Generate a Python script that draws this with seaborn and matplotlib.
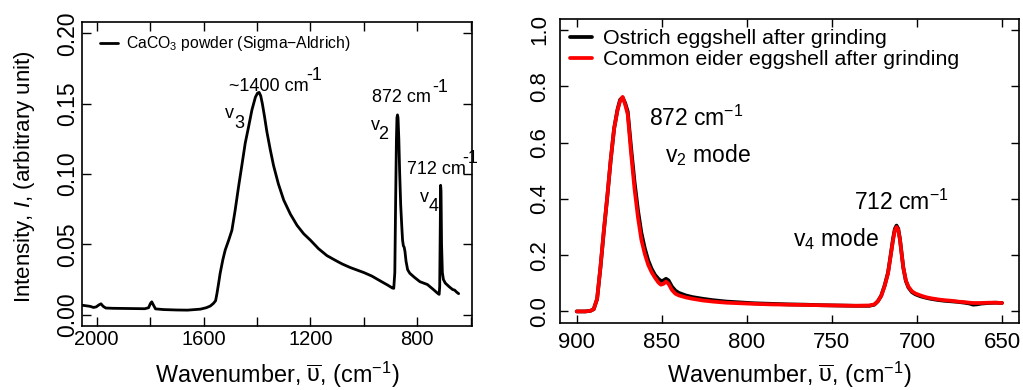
import matplotlib
matplotlib.use("Agg")
import matplotlib.pyplot as plt
import seaborn as sns
import pandas as pd

# CaCO3 reference powder spectrum (wavenumber in cm^-1, intensity in arbitrary units)
caco3_wn = [2055, 2040, 2025, 2012, 2002, 1992, 1984, 1976, 1966, 1940, 1900, 1860, 1820,
            1806, 1799, 1794, 1788, 1780, 1750, 1700, 1660, 1612, 1590, 1575, 1563, 1555,
            1550, 1544, 1538, 1528, 1519, 1506, 1494, 1482, 1469, 1456, 1444, 1431, 1419,
            1406, 1398, 1392, 1386, 1380, 1372, 1363, 1350, 1338, 1320, 1300, 1275, 1250,
            1225, 1200, 1170, 1138, 1100, 1080, 1050, 1000, 970, 938, 910, 893, 888, 884,
            881, 878, 876, 874, 872, 869, 866, 862, 858, 855, 852, 849, 846, 842, 836, 828,
            810, 790, 762, 740, 725, 718, 716, 714, 712.5, 711, 709, 706, 702, 695, 681,
            668, 660, 652, 645]
caco3_int = [0.0068, 0.0064, 0.0060, 0.0052, 0.0056, 0.0070, 0.0078, 0.0060, 0.0048, 0.0046,
             0.0045, 0.0044, 0.0043, 0.0050, 0.0080, 0.0092, 0.0070, 0.0042, 0.0037, 0.0034,
             0.0033, 0.0040, 0.0050, 0.0062, 0.0081, 0.0100, 0.0150, 0.0220, 0.0294, 0.0390,
             0.0460, 0.0530, 0.0600, 0.0740, 0.0910, 0.1070, 0.1220, 0.1340, 0.1455, 0.1546,
             0.1575, 0.1580, 0.1555, 0.1500, 0.1410, 0.1300, 0.1170, 0.1060, 0.0930, 0.0815,
             0.0715, 0.0635, 0.0575, 0.0530, 0.0470, 0.0420, 0.0380, 0.0360, 0.0335, 0.0300,
             0.0275, 0.0240, 0.0210, 0.0190, 0.0188, 0.0300, 0.0800, 0.1250, 0.1400, 0.1420,
             0.1400, 0.1250, 0.1020, 0.0780, 0.0630, 0.0530, 0.0490, 0.0480, 0.0450, 0.0380,
             0.0320, 0.0295, 0.0265, 0.0235, 0.0215, 0.0180, 0.0155, 0.0145, 0.0200, 0.0600,
             0.0920, 0.0880, 0.0500, 0.0300, 0.0250, 0.0225, 0.0200, 0.0180, 0.0175, 0.0160,
             0.0150]

# Eggshell spectra after grinding (normalised intensity)
egg_wn = [900, 895, 892, 890, 888, 886, 884, 882, 880, 878, 876, 874.5, 873, 871.5, 870, 868,
          866, 864, 862, 860, 858, 856, 854, 852, 850.5, 849, 847.5, 846, 844, 842, 840, 836,
          832, 826, 820, 812, 804, 796, 786, 776, 766, 756, 746, 736, 728, 725, 723, 721, 719,
          717, 715.5, 714, 713, 712, 711, 710, 709, 708, 706.5, 705, 703, 701, 698, 695, 692,
          688, 684, 680, 676, 672, 669, 667, 665, 662, 658, 654, 650]
ostrich = [0.000, 0.000, 0.002, 0.008, 0.044, 0.158, 0.288, 0.408, 0.538, 0.650, 0.718, 0.752,
           0.760, 0.740, 0.710, 0.580, 0.460, 0.360, 0.280, 0.225, 0.182, 0.152, 0.130, 0.116,
           0.108, 0.110, 0.116, 0.110, 0.088, 0.074, 0.066, 0.057, 0.051, 0.045, 0.040, 0.035,
           0.032, 0.029, 0.027, 0.025, 0.024, 0.022, 0.021, 0.020, 0.020, 0.024, 0.036, 0.056,
           0.092, 0.138, 0.198, 0.260, 0.293, 0.305, 0.294, 0.258, 0.206, 0.155, 0.108, 0.085,
           0.069, 0.061, 0.054, 0.049, 0.045, 0.041, 0.038, 0.036, 0.034, 0.031, 0.028, 0.024,
           0.025, 0.028, 0.030, 0.031, 0.030]
eider = [0.000, 0.000, 0.002, 0.008, 0.045, 0.160, 0.290, 0.410, 0.540, 0.650, 0.715, 0.748,
         0.762, 0.735, 0.700, 0.560, 0.435, 0.335, 0.255, 0.205, 0.166, 0.140, 0.120, 0.103,
         0.095, 0.098, 0.106, 0.098, 0.076, 0.063, 0.057, 0.050, 0.045, 0.039, 0.035, 0.031,
         0.029, 0.027, 0.025, 0.024, 0.023, 0.022, 0.021, 0.020, 0.021, 0.025, 0.036, 0.055,
         0.090, 0.135, 0.195, 0.255, 0.288, 0.300, 0.290, 0.255, 0.205, 0.155, 0.110, 0.088,
         0.072, 0.064, 0.057, 0.051, 0.047, 0.043, 0.040, 0.038, 0.035, 0.033, 0.031, 0.030,
         0.030, 0.030, 0.031, 0.031, 0.030]

left_xticks = [2000, 1800, 1600, 1400, 1200, 1000, 800, 600]
left_xlabels = ["2000", "", "1600", "", "1200", "", "800", ""]
left_yticks = [0.00, 0.05, 0.10, 0.15, 0.20]
left_ylabels = ["0.00", "0.05", "0.10", "0.15", "0.20"]
right_xticks = [900, 850, 800, 750, 700, 650]
right_yticks = [0.0, 0.2, 0.4, 0.6, 0.8, 1.0]
right_ylabels = ["0.0", "0.2", "0.4", "0.6", "0.8", "1.0"]

sns.set_theme(style="ticks")
plt.rcParams["font.family"] = ["Liberation Sans", "DejaVu Sans"]
plt.rcParams["mathtext.fontset"] = "custom"
plt.rcParams["mathtext.rm"] = "Liberation Sans"
plt.rcParams["mathtext.it"] = "Liberation Sans:italic"
plt.rcParams["mathtext.bf"] = "Liberation Sans:bold"
plt.rcParams["axes.linewidth"] = 1.2
for key in ["text.color", "axes.labelcolor", "xtick.color", "ytick.color",
            "axes.edgecolor", "xtick.labelcolor", "ytick.labelcolor"]:
    plt.rcParams[key] = "black"

fig = plt.figure(figsize=(10.23, 3.9), dpi=100)
ax1 = fig.add_axes([0.0802, 0.164, 0.3812, 0.7796])
ax2 = fig.add_axes([0.5471, 0.1726, 0.4490, 0.7794])

xlabel = r"Wavenumber, $\overline{\mathrm{\upsilon}}$, (cm$^{-1}$)"

# ---- left panel: CaCO3 powder ----
caco3 = pd.DataFrame({"wn": caco3_wn, "I": caco3_int})
sns.lineplot(data=caco3, x="wn", y="I", ax=ax1, color="black", lw=2.0,
             sort=False, estimator=None, label="CaCO$_3$ powder (Sigma\u2212Aldrich)")
ax1.set_xlim(2055, 595)
ax1.set_ylim(-0.008, 0.208)
ax1.set_xticks(left_xticks)
ax1.set_xticklabels(left_xlabels)
ax1.set_yticks(left_yticks)
ax1.set_yticklabels(left_ylabels, rotation=90, va="center")
ax1.tick_params(axis="both", direction="in", top=True, right=True, length=6.5, width=1.0,
                colors="black")
ax1.tick_params(axis="x", labelsize=14.5, pad=3)
ax1.tick_params(axis="y", labelsize=16.5, pad=2)
ax1.set_xlabel(xlabel, fontsize=16.8)
ax1.set_ylabel(r"Intensity, $\mathit{I}$, (arbitrary unit)", fontsize=16)
ax1.xaxis.set_label_coords(0.5, -0.112)
ax1.yaxis.set_label_coords(-0.115, 0.49)
ax1.legend(loc="upper left", bbox_to_anchor=(0.045, 0.96), frameon=False, fontsize=11.3,
           handlelength=1.2, handletextpad=0.5, borderaxespad=0, borderpad=0)

# peak labels with raised "-1" exponents and lowered mode indices
ann = dict(fontsize=13, ha="left", va="baseline")
ax1.text(1506, 0.159, "~1400 cm", **ann)
ax1.text(1214, 0.1669, "-1", **ann)
ax1.text(1519, 0.1398, "v", **ann)
ax1.text(1486, 0.1325, "3", **ann)
ax1.text(969, 0.1514, "872 cm", **ann)
ax1.text(744, 0.1585, "-1", **ann)
ax1.text(975, 0.1313, "v", **ann)
ax1.text(948, 0.1250, "2", **ann)
ax1.text(838, 0.1000, "712 cm", **ann)
ax1.text(630, 0.1076, "-1", **ann)
ax1.text(790, 0.0803, "v", **ann)
ax1.text(759, 0.0735, "4", **ann)

# ---- right panel: eggshells ----
egg = pd.DataFrame({"wn": egg_wn + egg_wn,
                    "I": ostrich + eider,
                    "sample": ["Ostrich eggshell after grinding"] * len(egg_wn)
                              + ["Common eider eggshell after grinding"] * len(egg_wn)})
sns.lineplot(data=egg, x="wn", y="I", hue="sample", ax=ax2,
             palette={"Ostrich eggshell after grinding": "black",
                      "Common eider eggshell after grinding": "#ff0000"},
             lw=2.7, sort=False, estimator=None)
ax2.set_xlim(910, 640)
ax2.set_ylim(-0.04, 1.04)
ax2.set_xticks(right_xticks)
ax2.set_xticklabels([str(t) for t in right_xticks])
ax2.set_yticks(right_yticks)
ax2.set_yticklabels(right_ylabels, rotation=90, va="center")
ax2.tick_params(axis="both", direction="in", top=True, right=True, length=5.5, width=1.0,
                colors="black", labelsize=16)
ax2.tick_params(axis="x", pad=6.5)
ax2.tick_params(axis="y", pad=7)
ax2.set_xlabel(xlabel, fontsize=16.8)
ax2.set_ylabel("")
ax2.xaxis.set_label_coords(0.5, -0.122)
ax2.legend(loc="upper left", bbox_to_anchor=(0.022, 0.965), frameon=False, fontsize=15.4,
           handlelength=1.05, handletextpad=0.5, borderaxespad=0, borderpad=0,
           labelspacing=0.08, title=None)

ann2 = dict(fontsize=16.5, ha="left", va="baseline")
ax2.text(857.7, 0.66, r"872 cm$^{-1}$", **ann2)
ax2.text(848.3, 0.53, r"v$_2$ mode", **ann2)
ax2.text(737, 0.362, r"712 cm$^{-1}$", **ann2)
ax2.text(772.8, 0.232, r"v$_4$ mode", **ann2)

fig.savefig("out.png", dpi=100)
